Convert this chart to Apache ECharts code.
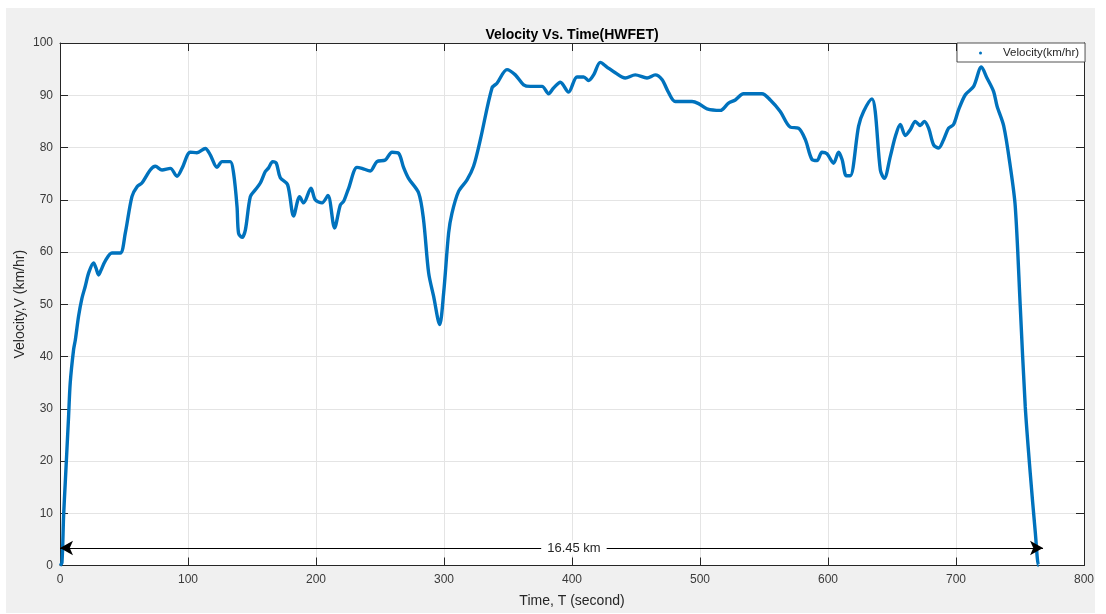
<!DOCTYPE html>
<html>
<head>
<meta charset="utf-8">
<script src="https://cdn.jsdelivr.net/npm/echarts@6/dist/echarts.min.js"></script>
<style>
html,body{margin:0;padding:0;background:#ffffff;width:1106px;height:614px;overflow:hidden;}
#chart{position:absolute;left:6px;top:8px;width:1089px;height:605px;}
</style>
</head>
<body>
<div id="chart"></div>
<script>
var timeSec = [0,1.5,2.8,4.1,6.7,8,10.6,12,14.5,17,19.8,22.4,26.2,28,30.2,32,35.4,40.6,47.1,51,56.2,60.2,64,70.5,74.5,79.7,86.2,91.4,95.3,101.8,107,113.5,117.4,122.7,126.6,133,135.6,138.3,139.5,142.2,144.8,148.7,152.6,156.5,160.4,163,166.1,169,172.1,177.8,182.5,187.2,190.3,196.1,199.4,204.7,209.3,214.5,219,221.6,225.5,232,235.9,242.4,247.6,254.1,259.4,264.5,268.4,272.3,280.2,284,288,291.9,296.6,299.7,303.6,306.2,311.4,318,323.1,328.4,337.5,341.4,349.2,355.7,362.2,367.4,376.6,381.7,385.6,390.9,397.3,403.9,409.1,413,416.9,422.1,427.3,433.8,441.6,449.4,458.6,465,470.3,475.5,480.7,493.8,498.9,505.5,515.9,522.3,527.6,534,548.4,554.9,562.7,570.5,577,582.3,587.5,591.4,595.3,599.2,604.4,608.3,611,614.3,617.4,623.9,627.8,634.4,636.9,640.9,644,648.7,652.6,656.5,660.4,664.3,668.2,672.1,675.2,678.6,682.5,686.4,690.3,694.2,698.1,702,707.3,713.8,719.8,724.2,729.4,732.1,737.3,742.4,746.3,750.2,754.1,758,762,764.5,765];
var velocity = [0,0.5,9.4,15.8,28.5,35,41.3,43.2,47.7,51,53.5,56,57.9,57,55.6,56.5,58.3,59.8,59.8,63.6,70.6,72.5,73.2,75.7,76.4,75.7,76,74.5,76,79.1,79,79.8,78.6,76.2,77.3,77.3,75.1,68.7,63.6,62.8,64.2,70.6,71.9,73.2,75.4,76.1,77.3,77,74.2,72.9,66.9,70.6,69.4,72.2,70,69.4,70.8,64.6,69,69.7,72.2,76.2,76,75.5,77.3,77.6,79.1,78.9,76.2,74.1,71.3,66.2,56,51.5,46.1,52.1,63.6,67.4,71.6,73.8,76.4,81.5,91.4,92.3,94.9,93.9,92,91.7,91.7,90.3,91.4,92.5,90.6,93.5,93.5,92.8,93.9,96.3,95.4,94.3,93.3,93.9,93.3,93.9,93,90.5,88.8,88.8,88.4,87.4,87.1,88.5,89.1,90.3,90.3,89.1,86.9,83.9,83.7,81.5,77.7,77.5,79.1,78.8,77,79.1,77.7,74.6,74.6,84.1,86.9,89.3,86.9,75.7,74.1,78.3,82.1,84.4,82.3,83.4,85,84.2,85,83.7,80.5,79.9,81.5,83.7,84.4,87.2,90.1,91.7,95.4,93.3,90.7,87.9,84.1,76.4,68.7,49.6,30.4,17.7,6.2,0,0];
var xTicks = [0,100,200,300,400,500,600,700,800];
var yTicks = [0,10,20,30,40,50,60,70,80,90,100];
var distanceLabel = '16.45 km';
var arrowSpan = [0, 768];
var arrowLevel = 3.35;
var labelTime = 401.5;

var seriesData = timeSec.map(function(t, i){ return [t, velocity[i]]; });
var txt = '#262626';
var lbl = '#3a3a3a';
var font = 'Liberation Sans, Arial, Helvetica, sans-serif';
var axisCol = '#262626';

function boxAxis(pos, isX) {
  return {
    type: 'value', position: pos,
    min: isX ? xTicks[0] : yTicks[0],
    max: isX ? xTicks[xTicks.length-1] : yTicks[yTicks.length-1],
    interval: isX ? 100 : 10,
    axisLine: {show: true, onZero: false, lineStyle: {color: axisCol, width: 1}},
    axisTick: {show: true, inside: true, length: 8, lineStyle: {color: axisCol}},
    axisLabel: {show: false}, splitLine: {show: false}
  };
}

var chart = echarts.init(document.getElementById('chart'));
chart.setOption({
  backgroundColor: '#f0f0f0',
  animation: false,
  textStyle: {fontFamily: font},
  title: {
    text: 'Velocity Vs. Time(HWFET)',
    left: 561, top: 15, textAlign: 'center',
    textStyle: {fontSize: 14, fontWeight: 'bold', color: '#000', fontFamily: font}
  },
  legend: {
    left: 951, top: 35,
    data: [{name: 'Velocity(km/hr)', icon: 'circle'}],
    itemWidth: 3, itemHeight: 3,
    padding: [4, 6, 3, 22],
    borderColor: '#262626', borderWidth: 0.8, borderRadius: 0,
    backgroundColor: '#ffffff',
    textStyle: {fontSize: 11.5, color: txt, fontFamily: font, padding: [0, 0, 0, 16]}
  },
  grid: {left: 54, right: 11, top: 35, bottom: 47.5, outerBoundsMode: 'none', containLabel: false,
         show: true, backgroundColor: '#ffffff', borderWidth: 0},
  xAxis: [{
    type: 'value', min: xTicks[0], max: xTicks[xTicks.length-1], interval: 100,
    name: 'Time, T (second)', nameLocation: 'middle', nameGap: 29, nameMoveOverlap: false,
    nameTextStyle: {fontSize: 14, color: txt, fontFamily: font},
    axisLine: {onZero: false, lineStyle: {color: axisCol, width: 1}},
    axisTick: {inside: true, length: 8, lineStyle: {color: axisCol}},
    axisLabel: {fontSize: 12, color: lbl, margin: 8, fontFamily: font},
    splitLine: {show: true, lineStyle: {color: '#e4e4e4', width: 1}}
  }, boxAxis('top', true)],
  yAxis: [{
    type: 'value', min: yTicks[0], max: yTicks[yTicks.length-1], interval: 10,
    name: 'Velocity,V (km/hr)', nameLocation: 'middle', nameGap: 33, nameMoveOverlap: false,
    nameTextStyle: {fontSize: 14, color: txt, fontFamily: font},
    axisLine: {show: true, onZero: false, lineStyle: {color: axisCol, width: 1}},
    axisTick: {show: true, inside: true, length: 8, lineStyle: {color: axisCol}},
    axisLabel: {fontSize: 12, color: lbl, margin: 7, fontFamily: font},
    splitLine: {show: true, lineStyle: {color: '#e4e4e4', width: 1}}
  }, boxAxis('right', false)],
  series: [{
    name: 'Velocity(km/hr)', type: 'line', data: seriesData,
    showSymbol: false, symbol: 'circle', smooth: 0.3,
    itemStyle: {color: '#0072BD'},
    lineStyle: {color: '#0072BD', width: 3.4},
    markLine: {
      silent: true, symbol: ['arrow', 'arrow'], symbolSize: [11, 13],
      lineStyle: {color: '#000', width: 1, type: 'solid'},
      label: {show: false},
      data: [[{coord: [arrowSpan[0], arrowLevel]}, {coord: [arrowSpan[1], arrowLevel]}]]
    },
    markPoint: {
      silent: true, symbol: 'rect', symbolSize: 0,
      data: [{coord: [labelTime, arrowLevel], value: distanceLabel}],
      label: {show: true, position: 'inside', formatter: distanceLabel, color: txt, fontSize: 13,
              fontFamily: font, backgroundColor: '#ffffff', padding: [1, 6]}
    }
  }]
});
</script>
</body>
</html>
